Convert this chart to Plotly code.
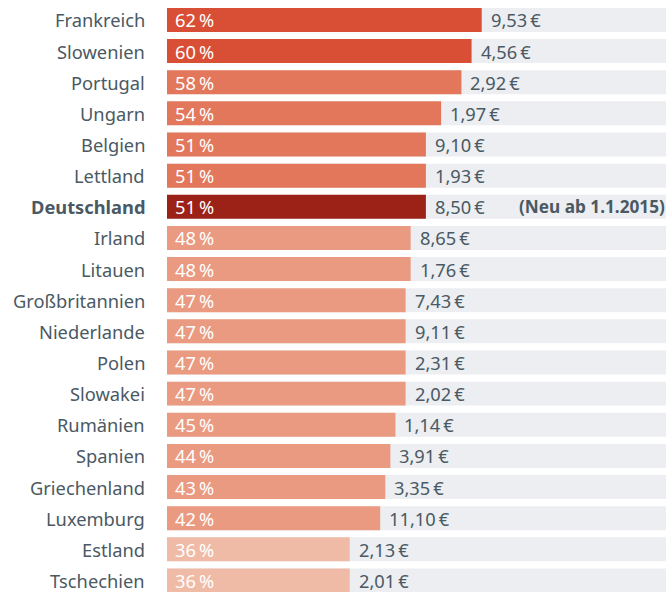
import plotly.graph_objects as go

countries = ["Frankreich", "Slowenien", "Portugal", "Ungarn", "Belgien", "Lettland",
             "Deutschland", "Irland", "Litauen", "Großbritannien", "Niederlande", "Polen",
             "Slowakei", "Rumänien", "Spanien", "Griechenland", "Luxemburg", "Estland", "Tschechien"]
pct = [62, 60, 58, 54, 51, 51, 51, 48, 48, 47, 47, 47, 47, 45, 44, 43, 42, 36, 36]
wage = [9.53, 4.56, 2.92, 1.97, 9.10, 1.93, 8.50, 8.65, 1.76, 7.43, 9.11, 2.31, 2.02,
        1.14, 3.91, 3.35, 11.10, 2.13, 2.01]
highlight = "Deutschland"
highlight_note = "(Neu ab 1.1.2015)"

FONT = "Noto Sans"
FS = 18.3
TEXT = "#4a5963"

def bar_color(c, p):
    if c == highlight:
        return "#9c2117"
    if p >= 60:
        return "#d94f35"
    if p >= 50:
        return "#e2775c"
    if p >= 40:
        return "#ea9a80"
    return "#f0bba6"

ys = list(range(len(countries)))
fig = go.Figure()
fig.add_trace(go.Bar(x=[100] * len(countries), y=ys, orientation="h", width=0.77,
                     marker=dict(color="#eceef1", line_width=0), hoverinfo="skip"))
fig.add_trace(go.Bar(x=pct, y=ys, orientation="h", width=0.77,
                     marker=dict(color=[bar_color(c, p) for c, p in zip(countries, pct)], line_width=0),
                     hoverinfo="skip"))

ann = []
for i, (c, p, w) in enumerate(zip(countries, pct, wage)):
    bold = c == highlight
    ann.append(dict(x=0, y=i, xref="x", yref="y", text=(f"<b>{c}</b>" if bold else c),
                    xanchor="right", xshift=-20, showarrow=False,
                    font=dict(family=FONT, size=FS, color=TEXT)))
    ann.append(dict(x=0, y=i, xref="x", yref="y", text=f"{p}\u2009%",
                    xanchor="left", xshift=6, showarrow=False,
                    font=dict(family=FONT, size=FS, color="white")))
    ann.append(dict(x=p, y=i, xref="x", yref="y", text=f"{w:.2f}".replace(".", ",") + "\u2009€",
                    xanchor="left", xshift=7, showarrow=False,
                    font=dict(family=FONT, size=FS, color=TEXT)))
    if bold:
        ann.append(dict(x=p, y=i, xref="x", yref="y", text=f"<b>{highlight_note}</b>",
                        xanchor="left", xshift=91, showarrow=False,
                        font=dict(family=FONT, size=17.2, color=TEXT)))

fig.update_layout(
    width=666, height=592, margin=dict(l=167, r=0, t=0, b=0),
    paper_bgcolor="white", plot_bgcolor="white",
    barmode="overlay", barcornerradius=4, showlegend=False,
    xaxis=dict(range=[0, 98.3], visible=False, fixedrange=True),
    yaxis=dict(range=[18.37, -0.64], visible=False, fixedrange=True),
    annotations=ann,
)
fig.write_html("out.html")
